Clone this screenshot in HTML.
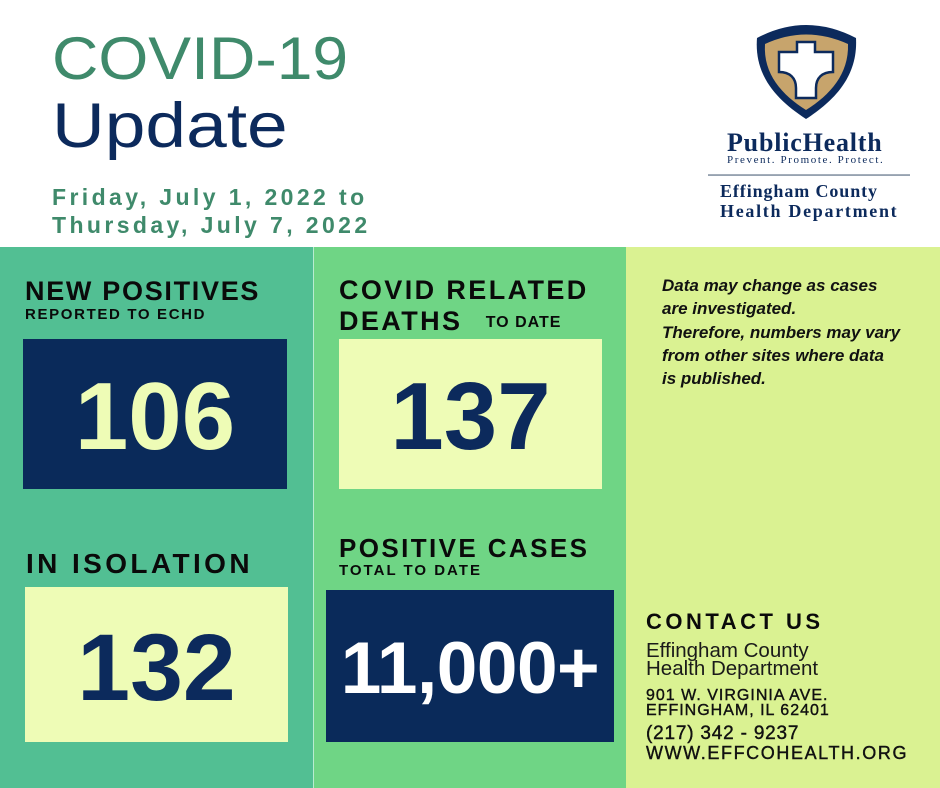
<!DOCTYPE html>
<html><head><meta charset="utf-8"><style>
*{margin:0;padding:0;box-sizing:border-box}
body{width:940px;height:788px;position:relative;overflow:hidden;background:#fff;font-family:"Liberation Sans",sans-serif}
.a{position:absolute;line-height:1;white-space:nowrap}
.b{font-weight:bold}
.serif{font-family:"Liberation Serif",serif}
</style></head><body>
<!-- header -->
<div class="a" style="left:52px;top:29px;font-size:60px;color:#3f8a6b;transform:scaleX(1.07);transform-origin:left">COVID-19</div>
<div class="a" style="left:52px;top:95px;font-size:63px;color:#0c2a5c;transform:scaleX(1.16);transform-origin:left">Update</div>
<div class="a b" style="left:52px;top:185.5px;font-size:23px;color:#3f8a6b;letter-spacing:3.4px">Friday, July 1, 2022 to</div>
<div class="a b" style="left:52px;top:213.8px;font-size:23px;color:#3f8a6b;letter-spacing:3.4px">Thursday, July 7, 2022</div>

<!-- logo -->
<svg style="position:absolute;left:0;top:0" width="940" height="247">
<path d="M757 38 Q806 12 856 38 C858 76 835 100 806 119 C777 100 754 76 757 38 Z" fill="#0c2a5c"/>
<path d="M765 44 Q806 25 848 44 C849 74 830 95 806 110 C782 95 763 74 765 44 Z" fill="#c7a46c"/>
<path d="M797 42 H815 V52 H833 V72 C822 72 816 78 816 88 V98 H796 V88 C796 78 790 72 779 72 V52 H797 Z" fill="#fff" stroke="#0c2a5c" stroke-width="2.5"/>
<rect x="708" y="174.3" width="202" height="1.5" fill="#7d8c9c"/>
</svg>
<div class="a serif b" style="left:727px;top:130.2px;font-size:26px;color:#0c2a5c;letter-spacing:0.8px">PublicHealth</div>
<div class="a serif" style="left:727px;top:154.8px;font-size:11px;color:#0c2a5c;letter-spacing:1.6px">Prevent. Promote. Protect.</div>
<div class="a serif b" style="left:720px;top:181.9px;font-size:18px;color:#0c2a5c;letter-spacing:0.9px">Effingham County</div>
<div class="a serif b" style="left:720px;top:201.9px;font-size:18px;color:#0c2a5c;letter-spacing:1.7px">Health Department</div>

<!-- columns -->
<div style="position:absolute;left:0;top:247px;width:313px;height:541px;background:#52bf93"></div>
<div style="position:absolute;left:313px;top:247px;width:1px;height:541px;background:#b8ecd0"></div>
<div style="position:absolute;left:314px;top:247px;width:312px;height:541px;background:#6fd585"></div>
<div style="position:absolute;left:626px;top:247px;width:314px;height:541px;background:#daf292"></div>

<!-- col1 -->
<div class="a b" style="left:25px;top:277.8px;font-size:27px;color:#0a0a0a;letter-spacing:1.7px">NEW POSITIVES</div>
<div class="a b" style="left:25px;top:307.3px;font-size:15px;color:#0a0a0a;letter-spacing:1.65px">REPORTED TO ECHD</div>
<div style="position:absolute;left:23px;top:339px;width:264px;height:150px;background:#0a2a5a"></div>
<div class="a b" style="left:23px;width:264px;text-align:center;top:369.4px;font-size:96px;color:#eefcb6">106</div>

<div class="a b" style="left:26px;top:549.6px;font-size:28px;color:#0a0a0a;letter-spacing:3.4px">IN ISOLATION</div>
<div style="position:absolute;left:25px;top:587px;width:263px;height:155px;background:#eefcb6"></div>
<div class="a b" style="left:25px;width:263px;text-align:center;top:621.3px;font-size:95px;color:#0c2a5c">132</div>

<!-- col2 -->
<div class="a b" style="left:339px;top:277.1px;font-size:27px;color:#0a0a0a;letter-spacing:2.4px">COVID RELATED</div>
<div class="a b" style="left:339px;top:307.8px;font-size:27px;color:#0a0a0a;letter-spacing:2.4px">DEATHS</div>
<div class="a b" style="left:485.7px;top:314.8px;font-size:16px;color:#0a0a0a;letter-spacing:1px">TO DATE</div>
<div style="position:absolute;left:339px;top:339px;width:263px;height:150px;background:#eefcb6"></div>
<div class="a b" style="left:339px;width:263px;text-align:center;top:369.4px;font-size:96px;color:#0c2a5c">137</div>

<div class="a b" style="left:339px;top:534.7px;font-size:26px;color:#0a0a0a;letter-spacing:2.4px">POSITIVE CASES</div>
<div class="a b" style="left:339px;top:563px;font-size:15px;color:#0a0a0a;letter-spacing:2px">TOTAL TO DATE</div>
<div style="position:absolute;left:326px;top:590px;width:288px;height:152px;background:#0a2a5a"></div>
<div class="a b" style="left:326px;width:288px;text-align:center;top:632.2px;font-size:73px;color:#ffffff;letter-spacing:-0.5px">11,000+</div>

<!-- col3 -->
<div style="position:absolute;left:662px;top:274.1px;font-size:17px;line-height:23.33px;font-weight:bold;font-style:italic;color:#111;white-space:nowrap">Data may change as cases<br>are investigated.<br>Therefore, numbers may vary<br>from other sites where data<br>is published.</div>

<div class="a b" style="left:646px;top:610.7px;font-size:22px;color:#0a0a0a;letter-spacing:3.5px">CONTACT US</div>
<div class="a" style="left:646px;top:641px;font-size:20.5px;color:#1a1a1a">Effingham County</div>
<div class="a" style="left:646px;top:659px;font-size:20.5px;color:#1a1a1a">Health Department</div>
<div class="a" style="left:646px;top:688.2px;font-size:16px;color:#111;letter-spacing:1px;-webkit-text-stroke:0.4px #111">901 W. VIRGINIA AVE.</div>
<div class="a" style="left:646px;top:703.2px;font-size:16px;color:#111;letter-spacing:1px;-webkit-text-stroke:0.4px #111">EFFINGHAM, IL 62401</div>
<div class="a" style="left:646px;top:723.9px;font-size:19px;color:#111;letter-spacing:0.8px;-webkit-text-stroke:0.4px #111">(217) 342 - 9237</div>
<div class="a" style="left:646px;top:744.1px;font-size:18px;color:#111;letter-spacing:1.6px;-webkit-text-stroke:0.4px #111">WWW.EFFCOHEALTH.ORG</div>
</body></html>
